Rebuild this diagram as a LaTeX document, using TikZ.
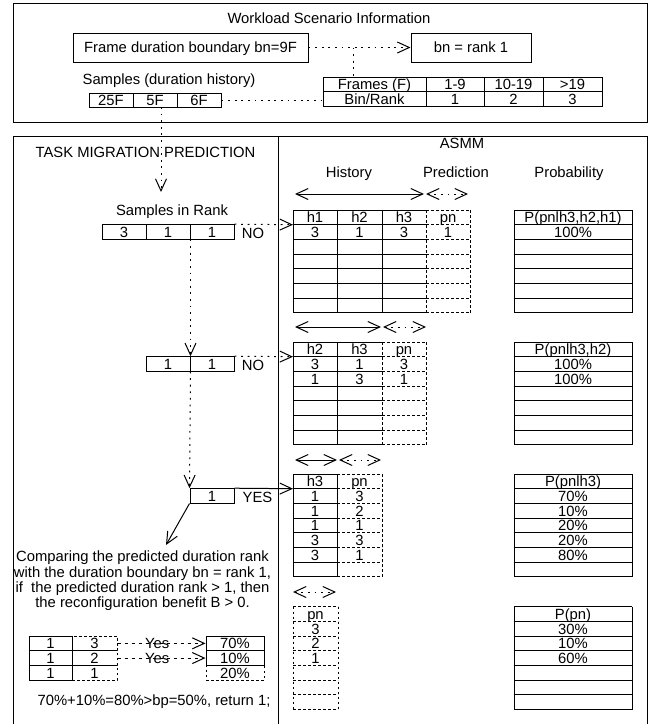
\documentclass[tikz,border=0pt]{standalone}
\usepackage{fontspec}
\setmainfont{Liberation Sans}
\usetikzlibrary{arrows.meta}
\newcommand\fs{\fontsize{14.8}{15.3}\selectfont}
\newcommand\tabh[4]{\foreach \k in {0,...,7}{\draw[#1] (#2,{#4+\k*14.7}) -- (#3,{#4+\k*14.7});}}
\newcommand\tabv[3]{\draw[#1] (#2,#3) -- (#2,{#3+102.9});}
\begin{document}
\begin{tikzpicture}[x=1pt,y=-1pt,line width=1pt,
  tx/.style={inner sep=0pt,text height=10.6pt,text depth=0pt,font=\fs},
  cellb/.style={tx,draw,minimum width=44pt,minimum height=14.5pt},
  dots/.style={dash pattern=on 1.8pt off 4.8pt},
  tdots/.style={dash pattern=on 2.5pt off 2.5pt},
  ydash/.style={dash pattern=on 3pt off 4pt},
  tip/.style={-{Straight Barb[length=12pt,width=11pt]}},
  dtip/.style={{Straight Barb[length=12pt,width=11pt]}-{Straight Barb[length=12pt,width=11pt]}}]
\useasboundingbox (0,0) rectangle (657,724);

% ---------------- top box
\draw (13,3) rectangle (647,122);
\node[tx] (title) at (329,18) {Workload Scenario Information};
\node[tx,draw,minimum width=235pt,minimum height=29pt] (fdb) at (190.5,47.5) {Frame duration boundary bn=9F};
\node[tx,draw,minimum width=120pt,minimum height=29pt] (bnr) at (471,47.5) {bn = rank 1};
\draw[dots,tip] (fdb) -- (bnr);
\coordinate (bnd) at (353,47.5);
\node[tx] (samp) at (169,79) {Samples (duration history)};
\node[cellb,minimum height=14pt] (s1) at (111,100) {25F};
\node[cellb,minimum height=14pt] (s2) at (155,100) {5F};
\node[cellb,minimum height=14pt] (s3) at (199,100) {6F};
\node[cellb,minimum width=103pt] (fr0) at (374.5,84.25) {Frames (F)};
\node[cellb,minimum width=58pt] (fr1) at (455,84.25) {1-9};
\node[cellb,minimum width=59pt] (fr2) at (513.5,84.25) {10-19};
\node[cellb,minimum width=59pt] (fr3) at (572.5,84.25) {>19};
\node[cellb,minimum width=103pt] (bn0) at (374.5,98.75) {Bin/Rank};
\node[cellb,minimum width=58pt] (bn1) at (455,98.75) {1};
\node[cellb,minimum width=59pt] (bn2) at (513.5,98.75) {2};
\node[cellb,minimum width=59pt] (bn3) at (572.5,98.75) {3};
\draw[dots] (bnd) -- (bnd |- fr0.north);
\draw[dots] (s3.east) -- (s3.east -| fr0.west);

% ---------------- lower frame
\draw (13,724) -- (13,136) -- (647,136) -- (647,724);
\draw (278,136) -- (278,724);
\node[tx] (tmp) at (145.5,152) {TASK MIGRATION PREDICTION};
\node[tx] (asmm) at (462,143) {ASMM};
\node[tx] (hist) at (349,172) {History};
\node[tx] (pred) at (456,172) {Prediction};
\node[tx] (prob) at (569,172) {Probability};

% ---------------- left panel
\coordinate (dA) at (161,107);
\coordinate (dB) at (161,192);
\draw[dots,tip] (dA) -- (dB);
\node[tx] (sir) at (172,210) {Samples in Rank};
\node[cellb,minimum height=14.3pt] (r1a) at (124,231.85) {3};
\node[cellb,minimum height=14.3pt] (r1b) at (168,231.85) {1};
\node[cellb,minimum height=14.3pt] (r1c) at (212,231.85) {1};
\node[tx] (no1) at (253,233) {NO};
\node[cellb,minimum height=14.3pt] (r2a) at (168,363.85) {1};
\node[cellb,minimum height=14.3pt] (r2b) at (212,363.85) {1};
\node[tx] (no2) at (253,365) {NO};
\node[cellb,minimum height=14.3pt] (r3a) at (212,495.85) {1};
\node[tx] (yes) at (257.5,497) {YES};
\coordinate (t1in) at (293,224.7);
\coordinate (t2in) at (293,356.7);
\coordinate (t3in) at (293,488.7);
\draw[dots,tip] (r1c.north east) -- (t1in);
\draw[dots,tip] (r2b.north east) -- (t2in);
\draw[tip] (r3a.north east) -- (t3in);
\draw[dots,tip] (r1b.south east) -- (r2a.north east);
\draw[dots,tip] (r2a.south east) -- (r3a.north west);
\coordinate (cmpin) at (166,545);
\draw[tip] (r3a.south west) -- (cmpin);
\node[tx,text height=,text depth=,align=center,anchor=north] (cmp) at (142.5,550.6)
  {Comparing the predicted duration rank\\with the duration boundary bn = rank 1,\\if \ the predicted duration rank > 1, then\\the reconfiguration benefit B > 0.};

\node[cellb,minimum width=43pt,minimum height=14.7pt] (b11) at (50.5,643.35) {1};
\node[cellb,minimum width=43pt,minimum height=14.7pt] (b21) at (50.5,658.05) {1};
\node[cellb,minimum width=43pt,minimum height=14.7pt] (b31) at (50.5,672.75) {1};
\node[cellb,tdots,minimum width=45pt,minimum height=14.7pt] (b12) at (94.5,643.35) {3};
\node[cellb,tdots,minimum width=45pt,minimum height=14.7pt] (b22) at (94.5,658.05) {2};
\node[cellb,tdots,minimum width=45pt,minimum height=14.7pt] (b32) at (94.5,672.75) {1};
\node[cellb,minimum width=58pt,minimum height=14.7pt] (c1) at (235,643.35) {70\%};
\node[cellb,minimum width=58pt,minimum height=14.7pt] (c2) at (235,658.05) {10\%};
\node[cellb,tdots,minimum width=58pt,minimum height=14.7pt] (c3) at (235,672.75) {20\%};
\draw[ydash,tip] (b12.east) -- (c1.west) node[tx,pos=0.45] (yes1) {Yes};
\draw[ydash,tip] (b22.east) -- (c2.west) node[tx,pos=0.45] (yes2) {Yes};
\node[tx] (res) at (154,700) {70\%+10\%=80\%>bp=50\%, return 1;};

% ---------------- right panel: arrows
\coordinate (a1l) at (295,194); \coordinate (a1m) at (424,194);
\coordinate (a1n) at (426,194); \coordinate (a1r) at (468,194);
\draw[dtip] (a1l) -- (a1m); \draw[dots,dtip] (a1n) -- (a1r);
\coordinate (a2l) at (295,327); \coordinate (a2m) at (381,327);
\coordinate (a2n) at (383,327); \coordinate (a2r) at (426,327);
\draw[dtip] (a2l) -- (a2m); \draw[dots,dtip] (a2n) -- (a2r);
\coordinate (a3l) at (295,460); \coordinate (a3m) at (337,460);
\coordinate (a3n) at (339,460); \coordinate (a3r) at (381,460);
\draw[dtip] (a3l) -- (a3m); \draw[dots,dtip] (a3n) -- (a3r);
\coordinate (a4l) at (293,592); \coordinate (a4r) at (336,592);
\draw[dots,dtip] (a4l) -- (a4r);

% ---------------- table 1
\tabh{}{293}{426}{210} \tabh{tdots}{426}{470}{210}
\tabv{}{293}{210} \tabv{}{337}{210} \tabv{}{382}{210}
\tabv{tdots}{426}{210} \tabv{tdots}{470}{210}
\tabh{}{514}{632}{210} \tabv{}{514}{210} \tabv{}{632}{210}
\foreach \lbl/\x [count=\i] in {h1/315,h2/359.5,h3/404,pn/448}
  \node[tx] (ta\i) at (\x,217.35) {\lbl};
\foreach \lbl/\x [count=\i] in {3/315,1/359.5,3/404,1/448}
  \node[tx] (tb\i) at (\x,232.05) {\lbl};
\node[tx] (pa0) at (573,217.35) {P(pnlh3,h2,h1)};
\node[tx] (pa1) at (573,232.05) {100\%};

% ---------------- table 2
\tabh{}{293}{382}{342} \tabh{tdots}{382}{426}{342}
\tabv{}{293}{342} \tabv{}{337}{342}
\tabv{tdots}{382}{342} \tabv{tdots}{426}{342}
\tabh{}{514}{632}{342} \tabv{}{514}{342} \tabv{}{632}{342}
\foreach \lbl/\x [count=\i] in {h2/315,h3/359.5,pn/404}
  \node[tx] (tc\i) at (\x,349.35) {\lbl};
\foreach \lbl/\x [count=\i] in {3/315,1/359.5,3/404}
  \node[tx] (td\i) at (\x,364.05) {\lbl};
\foreach \lbl/\x [count=\i] in {1/315,3/359.5,1/404}
  \node[tx] (te\i) at (\x,378.75) {\lbl};
\node[tx] (pb0) at (573,349.35) {P(pnlh3,h2)};
\node[tx] (pb1) at (573,364.05) {100\%};
\node[tx] (pb2) at (573,378.75) {100\%};

% ---------------- table 3
\tabh{}{293}{337}{474} \tabh{tdots}{337}{382}{474}
\tabv{}{293}{474} \tabv{}{337}{474} \tabv{tdots}{382}{474}
\tabh{}{514}{632}{474} \tabv{}{514}{474} \tabv{}{632}{474}
\foreach \a/\b/\p [count=\i from 0] in {h3/pn/P(pnlh3),1/3/70\%,1/2/10\%,1/1/20\%,3/3/20\%,3/1/80\%}{
  \node[tx] (tf\i) at (315,{481.35+\i*14.7}) {\a};
  \node[tx] (tg\i) at (359.5,{481.35+\i*14.7}) {\b};
  \node[tx] (pc\i) at (573,{481.35+\i*14.7}) {\p};
}

% ---------------- table 4
\tabh{tdots}{293}{338}{606.7} \tabv{tdots}{293}{606.7} \tabv{tdots}{338}{606.7}
\tabh{}{514}{632}{606.7} \tabv{}{514}{606.7} \tabv{}{632}{606.7}
\foreach \a/\p [count=\i from 0] in {pn/P(pn),3/30\%,2/10\%,1/60\%}{
  \node[tx] (th\i) at (315.5,{614.05+\i*14.7}) {\a};
  \node[tx] (pd\i) at (573,{614.05+\i*14.7}) {\p};
}
\end{tikzpicture}
\end{document}
